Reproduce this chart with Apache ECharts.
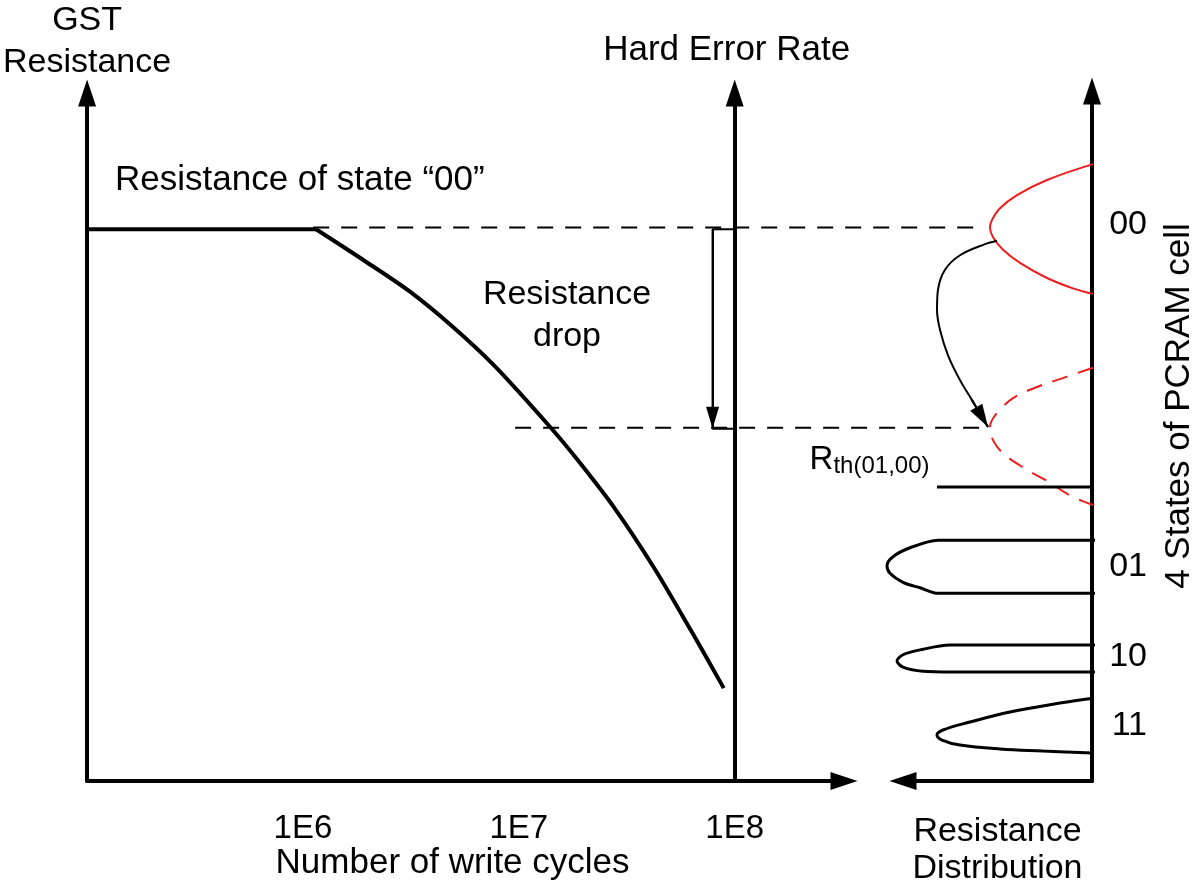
<!DOCTYPE html>
<html><head><meta charset="utf-8">
<script src="https://cdn.jsdelivr.net/npm/echarts@6/dist/echarts.min.js"></script>
<style>html,body{margin:0;padding:0;background:#fff}#c{width:1200px;height:896px}</style>
</head><body><div id="c"></div>
<script>
// ---- Left panel: GST resistance of state "00" vs number of write cycles ----
const flatCycles = [1e5, 1.15e6];
const flatR = [80.2, 80.2];
const dropCycles = [1.15e6, 1.89e6, 3.11e6, 4.91e6, 7.74e6, 1.42e7, 1.89e7, 2.77e7, 4.23e7, 6.27e7, 8.9e7];
const dropR = [80.2, 75.8, 71.2, 66.1, 60.3, 51.2, 46.5, 39.7, 31.0, 21.9, 13.5];
const xTickValues = [1e6, 1e7, 1e8];
const xTickLabels = ['1E6', '1E7', '1E8'];
const hardErrorCycles = 1e8;
const dropArrowCycles = 7.9e7;
const levelR = [80.2, 51.2];              // original / dropped level of state 00
const levelStartCycles = [1.15e6, 9.8e6];
const levelEndCycles = [1.40e9, 1.48e9];

// ---- Right panel: resistance distributions (density, resistance) ----
const dist00D = [0, 0.46, 0.76, 0.93, 1.01, 1.03, 1.00, 0.90, 0.73, 0.46, 0.20, 0];
const dist00R = [89.4, 87.1, 84.9, 83.0, 81.3, 80.2, 78.8, 77.0, 75.1, 72.9, 71.4, 70.6];
const distDropD = [0, 0.26, 0.56, 0.80, 0.93, 1.01, 1.03, 1.00, 0.90, 0.66, 0.46, 0.23, 0];
const distDropR = [59.9, 58.6, 57.1, 55.5, 53.8, 52.3, 51.2, 49.4, 47.5, 45.1, 43.5, 41.4, 40.0];
const dist01D = [-0.04, 1.55, 1.83, 2.00, 2.06, 2.03, 1.90, 1.73, 1.55, -0.04];
const dist01R = [34.9, 34.9, 33.8, 32.5, 31.2, 30.1, 28.8, 28.0, 27.2, 27.2];
const dist10D = [-0.06, 1.43, 1.73, 1.90, 1.96, 1.90, 1.70, 1.41, -0.06];
const dist10R = [19.7, 19.7, 19.0, 18.3, 17.4, 16.5, 15.9, 15.8, 15.8];
const dist11D = [0, 0.33, 0.83, 1.23, 1.50, 1.56, 1.51, 1.33, 0.93, 0.50, 0];
const dist11R = [12.0, 11.3, 10.0, 8.55, 7.39, 6.67, 5.94, 5.22, 4.64, 4.35, 4.06];
const rthR = 42.6;
const rthD = [1.56, 0];
const shiftD = [0.96, 1.08, 1.33, 1.48, 1.55, 1.56, 1.53, 1.45, 1.33, 1.21, 1.05];
const shiftR = [78.3, 77.8, 76.2, 74.1, 71.2, 68.3, 65.4, 61.7, 58.1, 55.2, 51.3];
const stateNames = ['00', '01', '10', '11'];
const stateR = [80.7, 31.0, 18.0, 8.0];

const FONT = '"Liberation Sans", Arial, Helvetica, sans-serif';
const zip = (a, b) => a.map((v, i) => [v, b[i]]);
const axisLine = { show: true, symbol: ['none', 'triangle'], symbolSize: [18, 27], lineStyle: { color: '#000', width: 4 } };
const noTick = { show: false };
const noSplit = { show: false };
const txt = (size, lh) => ({ fontFamily: FONT, fontSize: size, lineHeight: lh, color: '#000', fontWeight: 'normal' });
const plain = (color, width, type) => ({ color: color, width: width, type: type || 'solid' });
const hiddenAxis = (extra) => Object.assign({ show: false, splitLine: noSplit, axisTick: noTick, axisLabel: { show: false }, axisLine: { show: false } }, extra);
const arrowLine = (from, to, size, width) => ({
  silent: true, animation: false, symbol: 'none',
  lineStyle: plain('#000', width), label: { show: false }, emphasis: { disabled: true },
  data: [[{ coord: from, symbol: 'none' }, { coord: to, symbol: 'triangle', symbolSize: size, symbolOffset: [0, '50%'] }]]
});

const chart = echarts.init(document.getElementById('c'));
const option = {
  animation: false,
  backgroundColor: '#fff',
  textStyle: { fontFamily: FONT, color: '#000' },
  title: [
    { text: 'Resistance of state \u201C00\u201D', left: 115, top: 160, padding: 0, textStyle: txt(35, 40) },
    { text: 'Resistance\ndrop', left: 567, top: 274, textAlign: 'center', padding: 0, textStyle: txt(34, 42) }
  ],
  grid: [
    { left: 83, top: 91, width: 761, height: 690 },   // write-cycle panel
    { left: 903, top: 91, width: 190, height: 690 },  // distribution panel axes
    { left: 83, top: 91, width: 1010, height: 690 },  // level connectors (same cycle scale, wider)
    { left: 853, top: 91, width: 240, height: 690 }   // distribution curves (same density scale, wider)
  ],
  xAxis: [
    {
      type: 'log', logBase: 10, gridIndex: 0, min: 1e5, max: 3.21e8,
      axisLine: axisLine, axisTick: noTick, splitLine: noSplit,
      axisLabel: {
        show: true, margin: 31, fontSize: 33, color: '#000', fontFamily: FONT,
        formatter: function (v) {
          const i = xTickValues.findIndex(t => Math.abs(Math.log10(v) - Math.log10(t)) < 1e-6);
          return i >= 0 ? xTickLabels[i] : '';
        }
      },
      name: 'Number of write cycles', nameLocation: 'middle', nameGap: 62, nameMoveOverlap: false,
      nameTextStyle: Object.assign(txt(35, 40), { padding: [0, 26, 0, 0] })
    },
    {
      type: 'value', gridIndex: 1, inverse: true, min: 0, max: 1.9,
      axisLine: Object.assign({}, axisLine, { symbol: ['triangle', 'none'] }), axisTick: noTick, splitLine: noSplit, axisLabel: { show: false },
      name: 'Resistance\nDistribution', nameLocation: 'middle', nameGap: 32, nameMoveOverlap: false,
      nameTextStyle: txt(34, 37)
    },
    hiddenAxis({ type: 'log', logBase: 10, gridIndex: 2, min: 1e5, max: 4.51e9 }),
    hiddenAxis({ type: 'value', gridIndex: 3, inverse: true, min: 0, max: 2.4 })
  ],
  yAxis: [
    {
      type: 'value', gridIndex: 0, min: 0, max: 100,
      axisLine: axisLine, axisTick: noTick, splitLine: noSplit, axisLabel: { show: false },
      name: 'GST\nResistance', nameLocation: 'end', nameGap: 10, nameMoveOverlap: false,
      nameTextStyle: txt(34, 41.5)
    },
    {
      type: 'value', gridIndex: 1, position: 'right', min: 0, max: 100,
      axisLine: axisLine, axisTick: noTick, splitLine: noSplit,
      axisLabel: {
        show: true, customValues: stateR, align: 'right', margin: 55, fontSize: 34, color: '#000', fontFamily: FONT,
        formatter: function (v) {
          const i = stateR.findIndex(s => Math.abs(s - v) < 1e-6);
          return i >= 0 ? stateNames[i] : '';
        }
      },
      name: '4 States of PCRAM cell', nameLocation: 'middle', nameRotate: 90, nameGap: 67, nameMoveOverlap: false,
      nameTextStyle: Object.assign(txt(35, 40), { padding: [0, 0, 0, 60] })
    },
    hiddenAxis({ type: 'value', gridIndex: 2, min: 0, max: 100 }),
    hiddenAxis({ type: 'value', gridIndex: 3, min: 0, max: 100, position: 'right' })
  ],
  series: [
    { name: 'flat', type: 'line', xAxisIndex: 0, yAxisIndex: 0, data: zip(flatCycles, flatR), symbol: 'none', lineStyle: plain('#000', 4), silent: true },
    {
      name: 'degradation', type: 'line', xAxisIndex: 0, yAxisIndex: 0, data: zip(dropCycles, dropR), smooth: 0.3, symbol: 'none', lineStyle: plain('#000', 4), silent: true,
      markLine: {
        silent: true, animation: false, symbol: 'none',
        lineStyle: plain('#000', 4),
        label: { show: true, position: 'end', formatter: 'Hard Error Rate', distance: 25, fontSize: 35, color: '#000', fontFamily: FONT, padding: [0, 16, 0, 0] },
        emphasis: { disabled: true },
        data: [[{ coord: [hardErrorCycles, 0], symbol: 'none' }, { coord: [hardErrorCycles, 100], symbol: 'triangle', symbolSize: [18, 27] }]]
      }
    },
    { name: 'level00', type: 'line', xAxisIndex: 2, yAxisIndex: 2, data: [[levelStartCycles[0], levelR[0]], [levelEndCycles[0], levelR[0]]], symbol: 'none', lineStyle: { color: '#000', width: 2, type: [16, 12] }, silent: true },
    { name: 'levelDrop', type: 'line', xAxisIndex: 2, yAxisIndex: 2, data: [[levelStartCycles[1], levelR[1]], [levelEndCycles[1], levelR[1]]], symbol: 'none', lineStyle: { color: '#000', width: 2, type: [16, 12] }, silent: true },
    {
      name: 'dropBracket', type: 'line', xAxisIndex: 0, yAxisIndex: 0,
      data: [[hardErrorCycles, levelR[0]], [dropArrowCycles, levelR[0]], [dropArrowCycles, levelR[1]], [hardErrorCycles, levelR[1]]],
      symbol: 'none', lineStyle: plain('#000', 2), silent: true,
      markLine: arrowLine([dropArrowCycles, levelR[0]], [dropArrowCycles, levelR[1]], [13, 22], 2)
    },
    { name: '00', type: 'line', xAxisIndex: 3, yAxisIndex: 3, data: zip(dist00D, dist00R), smooth: 0.4, symbol: 'none', lineStyle: plain('#ee1c1c', 2), silent: true },
    { name: '00 dropped', type: 'line', xAxisIndex: 3, yAxisIndex: 3, data: zip(distDropD, distDropR), smooth: 0.4, symbol: 'none', lineStyle: { color: '#ee1c1c', width: 2, type: [16, 11] }, silent: true },
    {
      name: 'Rth', type: 'line', xAxisIndex: 3, yAxisIndex: 3, symbol: 'none', lineStyle: plain('#000', 3), silent: true,
      data: [
        { value: [rthD[0], rthR], symbol: 'circle', symbolSize: 1, itemStyle: { color: 'rgba(0,0,0,0)' },
          label: { show: true, position: 'left', distance: 7, offset: [0, -25], formatter: '{R|R}{s|th(01,00)}',
          rich: { R: { fontSize: 33, lineHeight: 33, padding: [0, 0, 5, 0], fontFamily: FONT, color: '#000' },
                  s: { fontSize: 24, lineHeight: 24, verticalAlign: 'bottom', fontFamily: FONT, color: '#000' } } } },
        [rthD[1], rthR]
      ]
    },
    { name: '01', type: 'line', xAxisIndex: 3, yAxisIndex: 3, data: zip(dist01D, dist01R), smooth: 0.3, symbol: 'none', lineStyle: plain('#000', 3), silent: true },
    { name: '10', type: 'line', xAxisIndex: 3, yAxisIndex: 3, data: zip(dist10D, dist10R), smooth: 0.3, symbol: 'none', lineStyle: plain('#000', 3), silent: true },
    { name: '11', type: 'line', xAxisIndex: 3, yAxisIndex: 3, data: zip(dist11D, dist11R), smooth: 0.4, symbol: 'none', lineStyle: plain('#000', 3), silent: true },
    {
      name: 'shift', type: 'line', xAxisIndex: 3, yAxisIndex: 3, data: zip(shiftD, shiftR), smooth: 0.35, symbol: 'none', lineStyle: plain('#000', 2), silent: true,
      markLine: arrowLine([shiftD[shiftD.length - 2], shiftR[shiftR.length - 2]], [shiftD[shiftD.length - 1], shiftR[shiftR.length - 1]], [14, 23], 2)
    }
  ]
};
chart.setOption(option);
</script>
</body></html>
